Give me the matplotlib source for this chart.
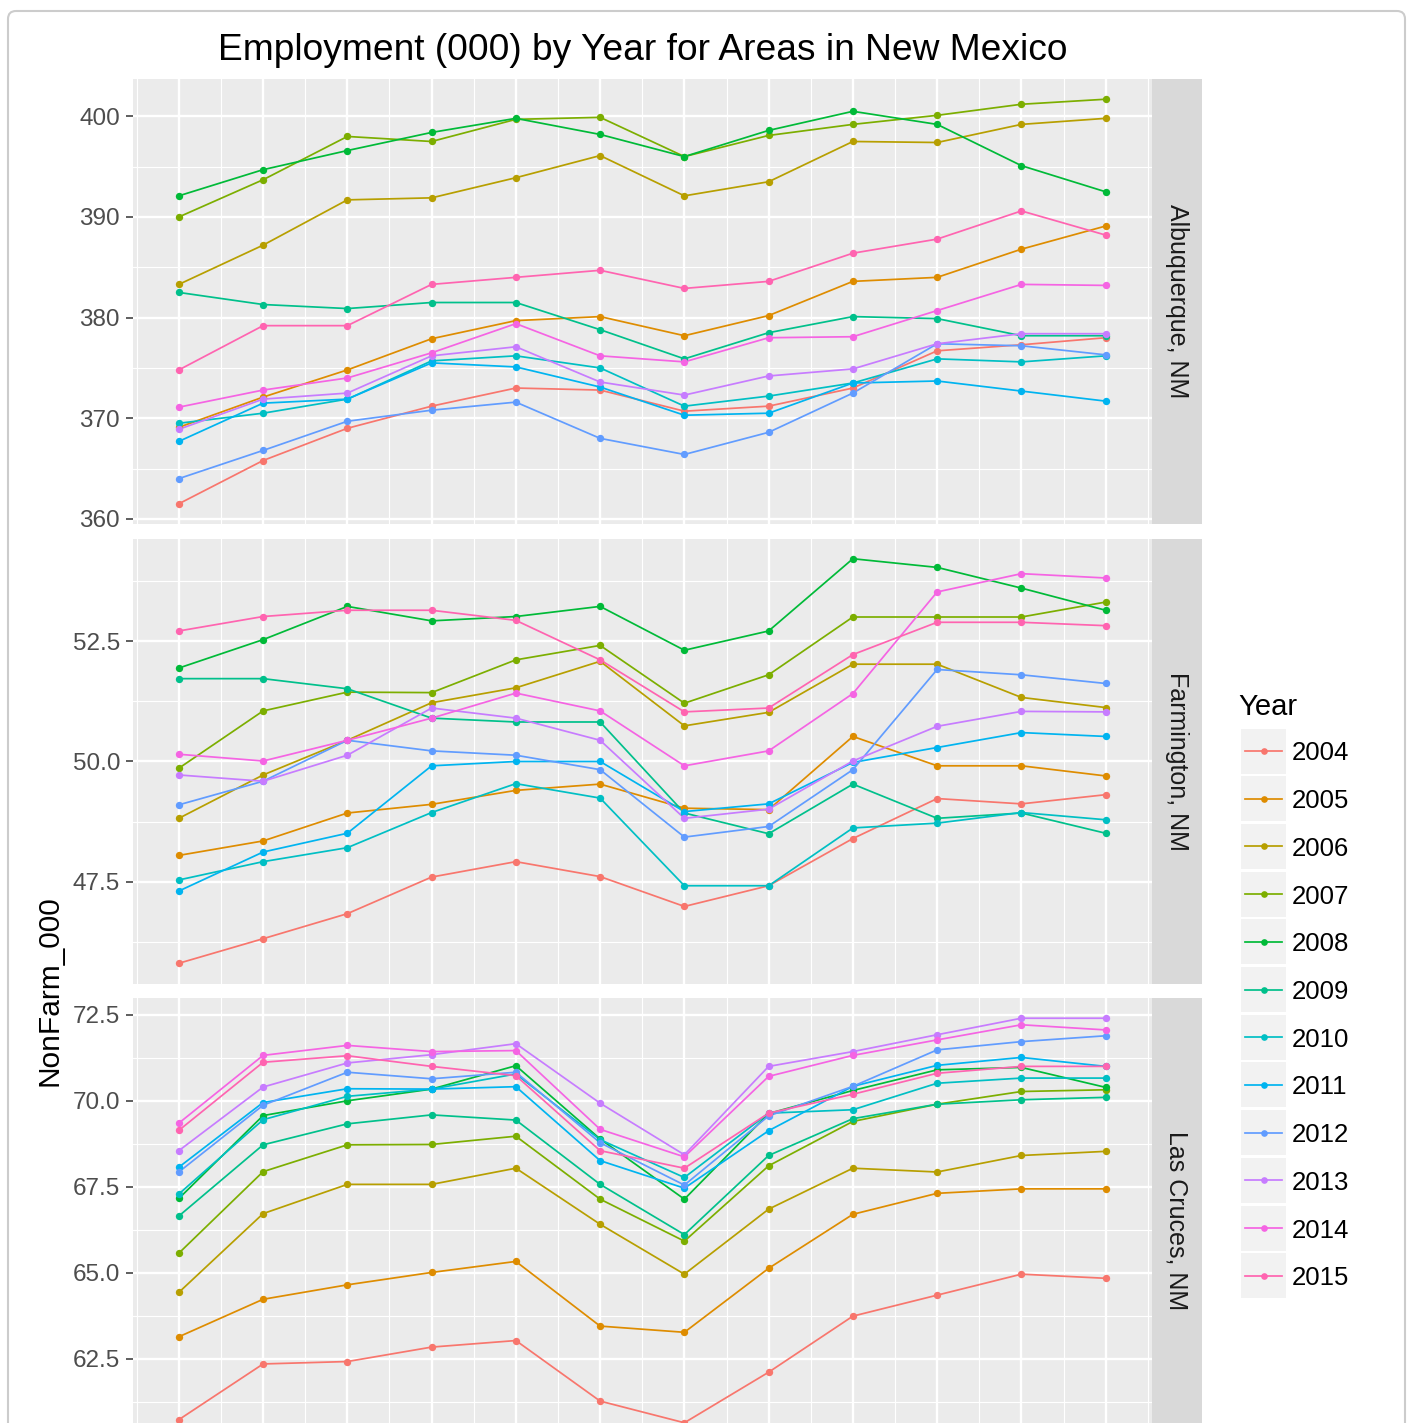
import matplotlib
matplotlib.use("Agg")
import matplotlib.pyplot as plt
from matplotlib.patches import FancyBboxPatch, Rectangle
from matplotlib.lines import Line2D
from matplotlib.ticker import MultipleLocator, FixedLocator, FormatStrFormatter

plt.rcParams['font.family'] = ['Liberation Sans', 'DejaVu Sans']

months = list(range(1, 13))
years = [2004, 2005, 2006, 2007, 2008, 2009, 2010, 2011, 2012, 2013, 2014, 2015]
year_colors = ['#F8766D', '#DE8C00', '#B79F00', '#7CAE00', '#00BA38', '#00C08B',
               '#00BFC4', '#00B4F0', '#619CFF', '#C77CFF', '#F564E3', '#FF64B0']
areas = ['Albuquerque, NM', 'Farmington, NM', 'Las Cruces, NM']

# one row per year (2004..2015), one value per month
albuquerque = [
    [361.5, 365.8, 369.0, 371.2, 373.0, 372.8, 370.7, 371.2, 373.0, 376.7, 377.3, 378.0],
    [369.1, 372.1, 374.8, 377.9, 379.7, 380.1, 378.2, 380.2, 383.6, 384.0, 386.8, 389.1],
    [383.3, 387.2, 391.7, 391.9, 393.9, 396.1, 392.1, 393.5, 397.5, 397.4, 399.2, 399.8],
    [390.0, 393.7, 398.0, 397.5, 399.7, 399.9, 396.0, 398.1, 399.2, 400.1, 401.2, 401.7],
    [392.1, 394.7, 396.6, 398.4, 399.8, 398.2, 396.0, 398.6, 400.5, 399.2, 395.1, 392.5],
    [382.5, 381.3, 380.9, 381.5, 381.5, 378.8, 375.9, 378.5, 380.1, 379.9, 378.2, 378.2],
    [369.5, 370.5, 371.9, 375.7, 376.2, 375.0, 371.2, 372.2, 373.5, 375.9, 375.6, 376.2],
    [367.7, 371.5, 371.9, 375.5, 375.1, 373.1, 370.3, 370.5, 373.5, 373.7, 372.7, 371.7],
    [364.0, 366.8, 369.7, 370.8, 371.6, 368.0, 366.4, 368.6, 372.5, 377.4, 377.2, 376.3],
    [368.9, 371.9, 372.5, 376.2, 377.1, 373.6, 372.3, 374.2, 374.9, 377.4, 378.4, 378.4],
    [371.1, 372.8, 374.0, 376.5, 379.4, 376.2, 375.6, 378.0, 378.1, 380.7, 383.3, 383.2],
    [374.8, 379.2, 379.2, 383.3, 384.0, 384.7, 382.9, 383.6, 386.4, 387.8, 390.6, 388.2],
]

farmington = [
    [45.81, 46.32, 46.84, 47.60, 47.92, 47.61, 46.99, 47.42, 48.40, 49.23, 49.12, 49.31],
    [48.05, 48.35, 48.93, 49.11, 49.40, 49.53, 49.03, 49.00, 50.52, 49.91, 49.91, 49.70],
    [48.82, 49.72, 50.44, 51.22, 51.53, 52.08, 50.74, 51.02, 52.02, 52.02, 51.33, 51.12],
    [49.86, 51.05, 51.44, 51.43, 52.11, 52.41, 51.21, 51.80, 53.00, 53.00, 53.00, 53.31],
    [51.94, 52.53, 53.22, 52.92, 53.01, 53.22, 52.31, 52.71, 54.21, 54.03, 53.60, 53.14],
    [51.72, 51.72, 51.51, 50.90, 50.82, 50.82, 48.93, 48.50, 49.53, 48.82, 48.93, 48.51],
    [47.54, 47.92, 48.21, 48.94, 49.54, 49.24, 47.42, 47.42, 48.62, 48.72, 48.94, 48.79],
    [47.31, 48.12, 48.51, 49.91, 50.00, 50.00, 48.96, 49.12, 49.98, 50.29, 50.60, 50.52],
    [49.10, 49.59, 50.44, 50.22, 50.13, 49.83, 48.43, 48.65, 49.83, 51.91, 51.80, 51.62],
    [49.72, 49.59, 50.13, 51.11, 50.90, 50.44, 48.82, 49.01, 50.01, 50.73, 51.04, 51.03],
    [50.15, 50.01, 50.44, 50.90, 51.42, 51.05, 49.91, 50.22, 51.41, 53.52, 53.90, 53.81],
    [52.71, 53.01, 53.14, 53.14, 52.93, 52.11, 51.03, 51.11, 52.22, 52.89, 52.89, 52.82],
]

las_cruces = [
    [60.73, 62.35, 62.42, 62.84, 63.03, 61.27, 60.64, 62.11, 63.74, 64.35, 64.96, 64.84],
    [63.14, 64.23, 64.65, 65.01, 65.33, 63.45, 63.27, 65.13, 66.70, 67.31, 67.44, 67.44],
    [64.43, 66.72, 67.57, 67.57, 68.04, 66.41, 64.96, 66.85, 68.04, 67.93, 68.41, 68.53],
    [65.57, 67.94, 68.72, 68.73, 68.97, 67.14, 65.92, 68.11, 69.40, 69.90, 70.27, 70.32],
    [67.16, 69.57, 70.00, 70.34, 71.02, 68.89, 67.14, 69.63, 70.30, 70.90, 70.97, 70.39],
    [66.65, 68.72, 69.33, 69.59, 69.44, 67.57, 66.11, 68.41, 69.48, 69.90, 70.03, 70.10],
    [67.29, 69.45, 70.13, 70.34, 70.78, 68.87, 67.77, 69.64, 69.74, 70.51, 70.66, 70.66],
    [68.07, 69.95, 70.35, 70.34, 70.41, 68.26, 67.46, 69.13, 70.42, 71.03, 71.26, 71.00],
    [67.93, 69.87, 70.83, 70.64, 70.83, 68.78, 67.55, 69.56, 70.42, 71.48, 71.72, 71.89],
    [68.55, 70.40, 71.10, 71.34, 71.66, 69.93, 68.43, 71.00, 71.43, 71.92, 72.40, 72.40],
    [69.35, 71.32, 71.61, 71.43, 71.46, 69.17, 68.37, 70.71, 71.32, 71.77, 72.21, 72.06],
    [69.14, 71.12, 71.31, 71.00, 70.73, 68.55, 68.04, 69.64, 70.19, 70.80, 71.00, 71.00],
]

area_data = [albuquerque, farmington, las_cruces]
y_steps = [10, 2.5, 2.5]
y_formats = ['%d', '%.1f', '%.1f']

W, H = 1411, 1423
fig = plt.figure(figsize=(W / 100, H / 100), dpi=100)


def px_box(x, y, w, h):
    # pixel box measured from the top-left corner -> figure fraction
    return [x / W, 1 - (y + h) / H, w / W, h / H]


panel_left, panel_w, panel_h = 132.5, 1019.5, 445
first_top, panel_step = 79, 459.5

for i, (area, values) in enumerate(zip(areas, area_data)):
    top = first_top + i * panel_step
    ax = fig.add_axes(px_box(panel_left, top, panel_w, panel_h))
    ax.set_facecolor('#EBEBEB')

    for col, series in zip(year_colors, values):
        ax.plot(months, series, color=col, lw=1.25, zorder=3)
    for col, series in zip(year_colors, values):
        ax.plot(months, series, 'o', color=col, ms=5.3, mew=0, zorder=4)

    ax.margins(x=0.05, y=0.05)
    step = y_steps[i]
    ax.xaxis.set_major_locator(FixedLocator(months))
    ax.xaxis.set_minor_locator(FixedLocator([m - 0.5 for m in months] + [12.5]))
    ax.yaxis.set_major_locator(MultipleLocator(step))
    ax.yaxis.set_minor_locator(MultipleLocator(step / 2))
    ax.yaxis.set_major_formatter(FormatStrFormatter(y_formats[i]))

    ax.grid(which='major', color='white', lw=1.7)
    ax.grid(which='minor', color='white', lw=0.8)
    ax.set_axisbelow(True)
    for s in ax.spines.values():
        s.set_visible(False)
    ax.tick_params(axis='x', which='both', length=0, labelbottom=False)
    ax.tick_params(axis='y', which='major', length=5, width=1.1, color='#333333',
                   labelsize=17.5, labelcolor='#4D4D4D', pad=4)
    ax.tick_params(axis='y', which='minor', length=0)

    # facet strip on the right
    sax = fig.add_axes(px_box(panel_left + panel_w, top, 50, panel_h))
    sax.set_facecolor('#D9D9D9')
    sax.set_xticks([])
    sax.set_yticks([])
    for s in sax.spines.values():
        s.set_visible(False)
    sax.text(0.5, 0.5, area, rotation=-90, ha='center', va='center',
             size=18, color='#1A1A1A', transform=sax.transAxes)

# overlay for title, axis label, legend and frame
over = fig.add_axes([0, 0, 1, 1])
over.set_xlim(0, W)
over.set_ylim(H, 0)
over.axis('off')
over.patch.set_alpha(0)

frame = FancyBboxPatch((8, 11), 1397, 1500, boxstyle='round,pad=0,rounding_size=8',
                       fc='none', ec='#CCCCCC', lw=1.5)
over.add_patch(frame)

over.text(642.5, 60, 'Employment (000) by Year for Areas in New Mexico',
          ha='center', va='baseline', size=26.7, color='black')
over.text(50, 991, 'NonFarm_000', rotation=90, ha='center', va='center',
          size=21.5, color='black')

over.text(1238, 715, 'Year', ha='left', va='baseline', size=21, color='black')
for k, (yr, col) in enumerate(zip(years, year_colors)):
    cy = 751 + k * 47.7
    over.add_patch(Rectangle((1241, cy - 22.5), 45, 45, fc='#F2F2F2', ec='none'))
    over.add_line(Line2D([1245, 1282], [cy, cy], color=col, lw=1.25))
    over.plot([1263.5], [cy], 'o', color=col, ms=4.8, mew=0)
    over.text(1292, cy, str(yr), ha='left', va='center_baseline', size=18.5, color='black')

fig.savefig('out.png', dpi=100)
